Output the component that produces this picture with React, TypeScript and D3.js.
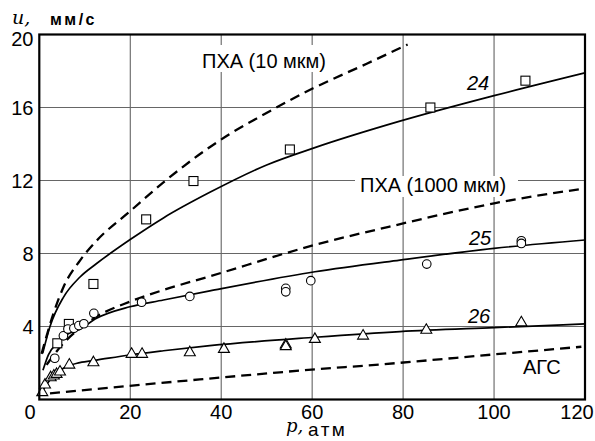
import React from "react";
import * as d3 from "d3";

// ---- data (p in atm, u in mm/s)

// curve 24 (solid) + squares
const curve24P = [0.75, 2.35, 5.3, 8.9, 12.6, 19.9, 27.3, 37.5, 50, 60.6, 79.3, 100, 120];
const curve24U = [2.53, 4.0, 5.6, 6.7, 7.45, 8.75, 9.95, 11.35, 12.85, 13.8, 15.25, 16.65, 17.9];
const squaresP = [3.96, 6.5, 11.9, 23.5, 33.9, 55.1, 86.0, 106.9];
const squaresU = [3.08, 4.14, 6.33, 9.87, 11.97, 13.7, 16.0, 17.47];

// curve 25 (solid) + circles
const curve25P = [0.8, 2, 4, 6, 8.9, 12.6, 19.9, 27.3, 37.5, 60.6, 79.3, 100, 120];
const curve25U = [1.6, 2.45, 3.1, 3.55, 3.85, 4.45, 5.08, 5.45, 5.95, 7.0, 7.64, 8.28, 8.74];
const circlesP = [3.4, 5.3, 6.3, 7.6, 8.7, 9.8, 12.0, 22.5, 33.1, 54.2, 54.2, 59.7, 85.2, 106, 106];
const circlesU = [2.26, 3.49, 3.86, 3.9, 4.05, 4.15, 4.72, 5.33, 5.65, 6.09, 5.9, 6.51, 7.42, 8.7, 8.55];

// curve 26 (solid) + triangles
const curve26P = [0.4, 2.35, 5.3, 8.9, 12.6, 19.9, 27.3, 37.5, 60.6, 79.3, 100, 120];
const curve26U = [0.34, 1.07, 1.71, 2.02, 2.16, 2.44, 2.67, 2.95, 3.41, 3.72, 3.94, 4.14];
const trianglesP = [0.66, 1.25, 2.5, 3.2, 3.8, 4.55, 6.6, 11.9, 20.3, 22.6, 33.1, 40.6, 54.2, 54.2, 60.6, 71.2, 85.1, 106];
const trianglesU = [0.43, 0.85, 1.25, 1.34, 1.43, 1.56, 1.94, 2.07, 2.53, 2.53, 2.62, 2.8, 3.04, 2.95, 3.35, 3.53, 3.85, 4.26];

// dashed curves
const pxa10P = [0.5, 3.1, 5.3, 8.9, 12.6, 19.9, 27.3, 41.9, 47.8, 60.2, 72, 81];
const pxa10U = [2.5, 4.7, 6.15, 7.6, 8.7, 10.3, 11.9, 14.55, 15.4, 17.05, 18.4, 19.45];
const pxa1000P = [1.6, 5.3, 8.9, 12.6, 19.9, 27.3, 37.5, 60.6, 78.5, 100, 120];
const pxa1000U = [1.9, 3.08, 3.9, 4.54, 5.36, 6.0, 6.75, 8.47, 9.56, 10.75, 11.57];
const agsP = [2.35, 19.9, 35.3, 60.6, 74.9, 100, 119.2];
const agsU = [0.34, 0.75, 1.1, 1.65, 1.92, 2.47, 2.89];

const xTicks = [0, 20, 40, 60, 80, 100, 120];
const yTicks = [4, 8, 12, 16, 20];

const zip = (ps: number[], us: number[]) => ps.map((p, i) => [p, us[i]] as [number, number]);

const App = () => {
  const margin = { top: 34.5, right: 10, bottom: 41.5, left: 39.3 };
  const W = 595;
  const H = 441;

  const x = d3.scaleLinear().domain([0, 120]).range([margin.left, W - margin.right]);
  const y = d3.scaleLinear().domain([0, 20]).range([H - margin.bottom, margin.top]);

  const line = d3
    .line<[number, number]>()
    .x(d => x(d[0]))
    .y(d => y(d[1]))
    .curve(d3.curveMonotoneX);

  const font = "'Liberation Sans', Arial, sans-serif";
  const serif = "'DejaVu Serif', 'Liberation Serif', serif";

  const solid = [zip(curve24P, curve24U), zip(curve25P, curve25U), zip(curve26P, curve26U)];
  const dashed = [zip(pxa10P, pxa10U), zip(pxa1000P, pxa1000U), zip(agsP, agsU)];

  const tri = (cx: number, cy: number) =>
    `M${cx},${cy - 5.5}L${cx + 5.5},${cy + 4}L${cx - 5.5},${cy + 4}Z`;

  // x label positions: first and last sit a bit inside the page
  const xLabelX = (t: number) => (t === 0 ? 30 : t === 120 ? 577 : x(t));

  return (
    <svg
      width={W}
      height={H}
      style={{ position: "absolute", left: 0, top: 0, background: "#fff" }}
    >
      <defs>
        <clipPath id="plot">
          <rect x={x(0)} y={y(20)} width={x(120) - x(0)} height={y(0) - y(20)} />
        </clipPath>
      </defs>

      {/* grid */}
      {xTicks.slice(1, -1).map(t => (
        <line key={"gx" + t} x1={x(t)} x2={x(t)} y1={y(0)} y2={y(20)} stroke="#555" strokeWidth={1} />
      ))}
      {yTicks.slice(0, -1).map(t => (
        <line key={"gy" + t} x1={x(0)} x2={x(120)} y1={y(t)} y2={y(t)} stroke="#666" strokeWidth={1} />
      ))}

      {/* labels with white backing */}
      <rect x={197} y={45} width={140} height={27} fill="#fff" />
      <rect x={355} y={176} width={163} height={21} fill="#fff" />

      <g clipPath="url(#plot)" fill="none" stroke="#000">
        {solid.map((d, i) => (
          <path key={"s" + i} d={line(d) || ""} strokeWidth={1.7} />
        ))}
        {dashed.map((d, i) => (
          <path key={"d" + i} d={line(d) || ""} strokeWidth={2.3} strokeDasharray="10,6" />
        ))}
      </g>

      {/* markers */}
      <g fill="#fff" stroke="#000" strokeWidth={1.1}>
        {zip(squaresP, squaresU).map((d, i) => (
          <rect key={"q" + i} x={x(d[0]) - 4.5} y={y(d[1]) - 4.5} width={9} height={9} />
        ))}
        {zip(circlesP, circlesU).map((d, i) => (
          <circle key={"c" + i} cx={x(d[0])} cy={y(d[1])} r={4.3} />
        ))}
        {zip(trianglesP, trianglesU).map((d, i) => (
          <path key={"t" + i} d={tri(x(d[0]), y(d[1]))} />
        ))}
      </g>

      {/* frame */}
      <rect
        x={x(0)}
        y={y(20)}
        width={x(120) - x(0)}
        height={y(0) - y(20)}
        fill="none"
        stroke="#000"
        strokeWidth={2.2}
      />

      {/* tick labels */}
      <g fontFamily={font} fontSize={20} fill="#000">
        {xTicks.map(t => (
          <text key={"xt" + t} x={xLabelX(t)} y={419} textAnchor="middle">
            {t}
          </text>
        ))}
        {yTicks.map(t => (
          <text key={"yt" + t} x={33.5} y={y(t) + (t === 20 ? 11 : 7)} textAnchor="end">
            {t}
          </text>
        ))}
      </g>

      {/* curve labels */}
      <g fontFamily={font} fontSize={20} fill="#000">
        <text x={202} y={67.5}>ПХА (10 мкм)</text>
        <text x={360} y={192}>ПХА (1000 мкм)</text>
        <text x={523} y={374}>АГС</text>
        <g fontStyle="italic">
          <text x={467} y={90}>24</text>
          <text x={469} y={245}>25</text>
          <text x={468} y={323}>26</text>
        </g>
      </g>

      {/* axis titles */}
      <text x={12} y={24} fontFamily={serif} fontStyle="italic" fontSize={19}>
        u,
      </text>
      <text x={50} y={25} fontFamily={font} fontSize={16} fontWeight="bold" letterSpacing={2.5}>
        мм/с
      </text>
      <text x={286} y={432} fontFamily={serif} fontStyle="italic" fontSize={18}>
        p,
      </text>
      <text x={308} y={436} fontFamily={font} fontSize={19} letterSpacing={2.5}>
        атм
      </text>
    </svg>
  );
};

export default App;
